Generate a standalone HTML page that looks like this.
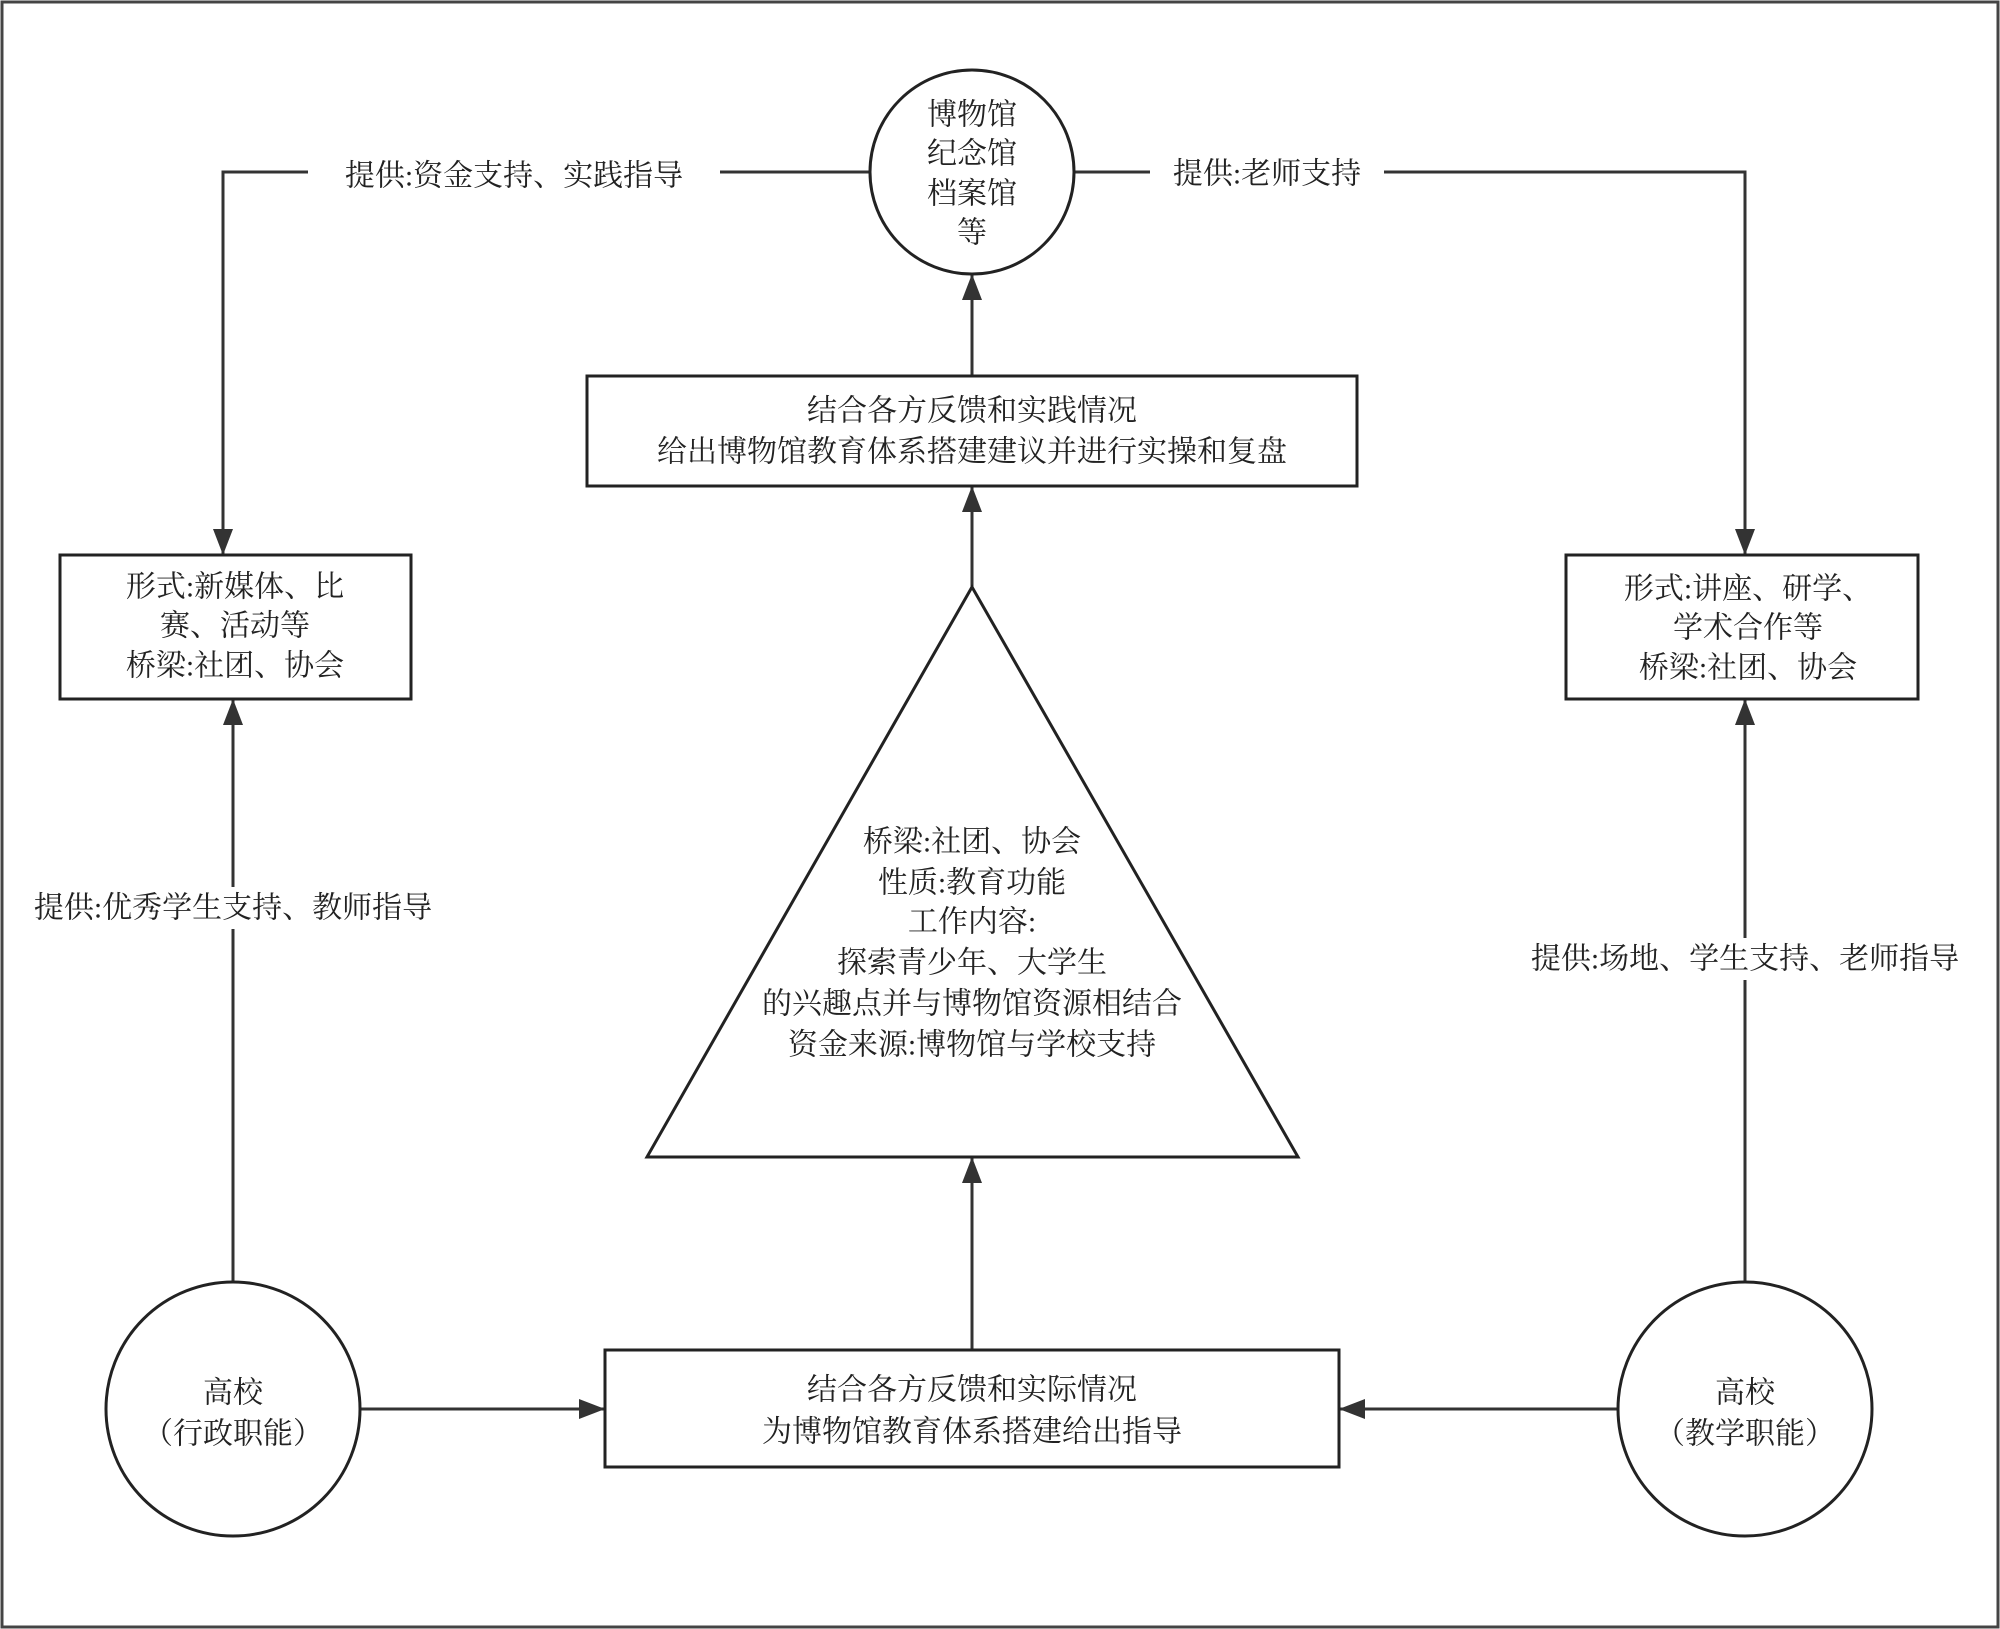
<!DOCTYPE html>
<html><head><meta charset="utf-8"><style>
html,body{margin:0;padding:0;background:#fff;}
svg{display:block;}
text{font-family:"Liberation Serif","Noto Serif CJK SC","Noto Sans CJK SC",serif;font-size:30px;fill:#222;}
</style></head><body>
<svg width="2000" height="1629" viewBox="0 0 2000 1629" xmlns="http://www.w3.org/2000/svg">
<defs><marker id="a" viewBox="0 0 10 10" refX="10" refY="5" markerWidth="10" markerHeight="10" markerUnits="userSpaceOnUse" orient="auto"><path d="M0,0 L10,5 L0,10 z" fill="#333"/></marker>
<marker id="b" viewBox="0 0 10 10" refX="10" refY="5" markerWidth="26" markerHeight="20" markerUnits="userSpaceOnUse" orient="auto" preserveAspectRatio="none"><path d="M0,0 L10,5 L0,10 z" fill="#333"/></marker></defs>
<rect x="2" y="2" width="1996" height="1625" fill="none" stroke="#444" stroke-width="3"/>
<g stroke="#333" stroke-width="3" fill="none">
<polyline points="870,172 223,172 223,555" marker-end="url(#b)"/>
<polyline points="1074,172 1745,172 1745,555" marker-end="url(#b)"/>
<line x1="233" y1="1282" x2="233" y2="699" marker-end="url(#b)"/>
<line x1="1745" y1="1282" x2="1745" y2="699" marker-end="url(#b)"/>
<line x1="360" y1="1409" x2="605" y2="1409" marker-end="url(#b)"/>
<line x1="1618" y1="1409" x2="1339" y2="1409" marker-end="url(#b)"/>
<line x1="972" y1="1350" x2="972" y2="1157" marker-end="url(#b)"/>
<line x1="972" y1="587" x2="972" y2="486" marker-end="url(#b)"/>
<line x1="972" y1="376" x2="972" y2="274" marker-end="url(#b)"/>
</g>
<g stroke="#222" stroke-width="3" fill="#fff">
<circle cx="972" cy="172" r="102"/>
<rect x="587" y="376" width="770" height="110"/>
<polygon points="972,587 647,1157 1298,1157"/>
<rect x="605" y="1350" width="734" height="117"/>
<circle cx="233" cy="1409" r="127"/>
<circle cx="1745" cy="1409" r="127"/>
<rect x="60" y="555" width="351" height="144"/>
<rect x="1566" y="555" width="352" height="144"/>
</g>
<g fill="#fff">
<rect x="308" y="152" width="412" height="42"/>
<rect x="1150" y="152" width="234" height="42"/>
<rect x="15" y="887" width="436" height="42"/>
<rect x="1510" y="938" width="470" height="42"/>
</g>
<g text-anchor="middle" dominant-baseline="central">
<text x="972" y="115">博物馆</text>
<text x="972" y="154">纪念馆</text>
<text x="972" y="194">档案馆</text>
<text x="972" y="233">等</text>
<text x="514" y="176">提供:资金支持、实践指导</text>
<text x="1267" y="174">提供:老师支持</text>
<text x="972" y="411">结合各方反馈和实践情况</text>
<text x="972" y="452">给出博物馆教育体系搭建建议并进行实操和复盘</text>
<text x="235" y="587">形式:新媒体、比</text>
<text x="235" y="626">赛、活动等</text>
<text x="235" y="666">桥梁:社团、协会</text>
<text x="1748" y="589">形式:讲座、研学、</text>
<text x="1748" y="628">学术合作等</text>
<text x="1748" y="668">桥梁:社团、协会</text>
<text x="233" y="908">提供:优秀学生支持、教师指导</text>
<text x="1745" y="959">提供:场地、学生支持、老师指导</text>
<text x="972" y="842">桥梁:社团、协会</text>
<text x="972" y="883">性质:教育功能</text>
<text x="972" y="922">工作内容:</text>
<text x="972" y="963">探索青少年、大学生</text>
<text x="972" y="1004">的兴趣点并与博物馆资源相结合</text>
<text x="972" y="1045">资金来源:博物馆与学校支持</text>
<text x="972" y="1390">结合各方反馈和实际情况</text>
<text x="972" y="1432">为博物馆教育体系搭建给出指导</text>
<text x="233" y="1393">高校</text>
<text x="233" y="1434">（行政职能）</text>
<text x="1745" y="1393">高校</text>
<text x="1745" y="1434">（教学职能）</text>
</g>
</svg>
</body></html>
